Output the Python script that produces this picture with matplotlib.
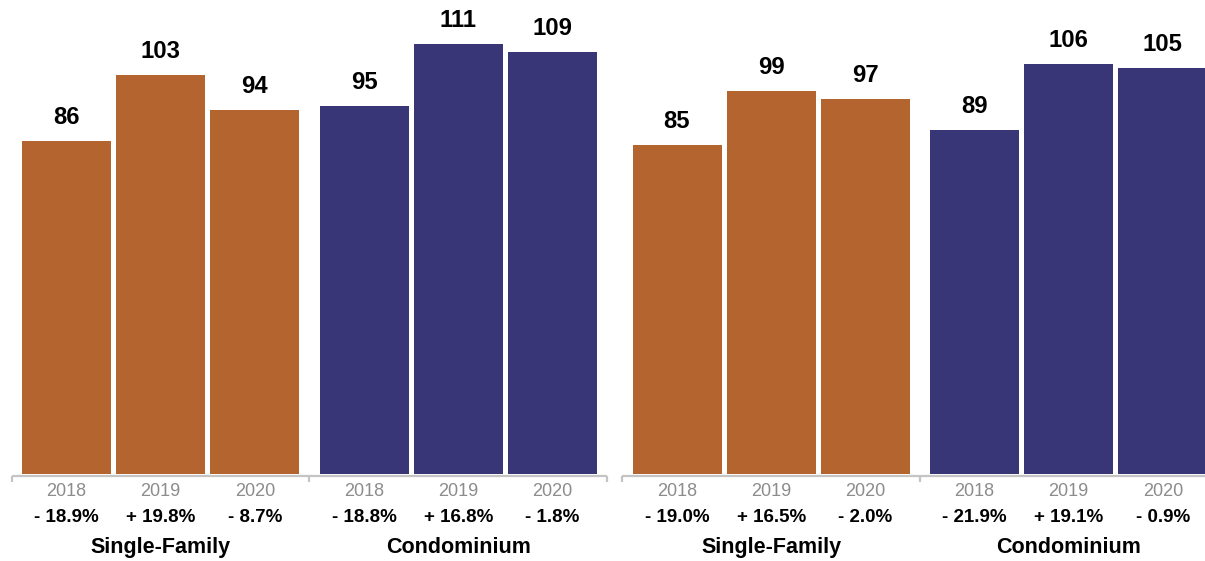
import matplotlib
matplotlib.use("Agg")
import matplotlib.pyplot as plt

# Data (two panels, each with two property types)
YEARS = ["2018", "2019", "2020"]
GROUPS = ["Single-Family", "Condominium"]

LEFT_SF = [86, 103, 94]
LEFT_CONDO = [95, 111, 109]
RIGHT_SF = [85, 99, 97]
RIGHT_CONDO = [89, 106, 105]

LEFT_SF_PCT = [-18.9, 19.8, -8.7]
LEFT_CONDO_PCT = [-18.8, 16.8, -1.8]
RIGHT_SF_PCT = [-19.0, 16.5, -2.0]
RIGHT_CONDO_PCT = [-21.9, 19.1, -0.9]

PANELS = [
    [(LEFT_SF, LEFT_SF_PCT), (LEFT_CONDO, LEFT_CONDO_PCT)],
    [(RIGHT_SF, RIGHT_SF_PCT), (RIGHT_CONDO, RIGHT_CONDO_PCT)],
]

COLORS = ["#B3642F", "#383676"]
AXIS_GRAY = "#c4c4c4"
YEAR_GRAY = "#8c8c8c"

# layout (pixel-like units on x, value units on y)
W, H = 1205, 561
PX_PER_UNIT = 3.87
BASE_PX = 474
PANEL_X0 = [22, 632.5]
GROUP_STEP = 297.5
BAR_STEP = 94.2
BAR_W = 89


def px(d):
    # pixel distance -> value units
    return d / PX_PER_UNIT


def fmt_pct(v):
    sign = "+" if v > 0 else "-"
    return f"{sign} {abs(v):.1f}%"


plt.rcParams["font.family"] = ["Liberation Sans", "DejaVu Sans"]

fig = plt.figure(figsize=(W / 100, H / 100), dpi=100)
ax = fig.add_axes([0, 0, 1, 1])
ax.set_xlim(0, W)
ax.set_ylim(-px(H - BASE_PX), px(BASE_PX))
ax.axis("off")

for p, panel in enumerate(PANELS):
    x0 = PANEL_X0[p]
    # bracket axis line under each panel
    lx0 = x0 - 10.5
    lx1 = x0 - 10.5 + 2 * GROUP_STEP
    ax.plot([lx0, lx1], [-px(2), -px(2)], color=AXIS_GRAY, lw=1.6,
            solid_capstyle="butt", clip_on=False)
    for k in range(3):
        tx = lx0 + k * GROUP_STEP
        ax.plot([tx, tx], [-px(2), -px(8)], color=AXIS_GRAY, lw=1.6,
                solid_capstyle="butt", clip_on=False)

    for g, (vals, pcts) in enumerate(panel):
        lefts = [x0 + g * GROUP_STEP + i * BAR_STEP for i in range(len(vals))]
        ax.bar(lefts, vals, width=BAR_W, align="edge", color=COLORS[g],
               linewidth=0)
        for xl, v, pc, yr in zip(lefts, vals, pcts, YEARS):
            xc = xl + BAR_W / 2
            ax.text(xc, v + px(17), str(v), ha="center", va="baseline",
                    fontsize=17.2, fontweight="bold", color="black")
            ax.text(xc, -px(22), yr, ha="center", va="baseline",
                    fontsize=13, color=YEAR_GRAY)
            ax.text(xc, -px(48), fmt_pct(pc), ha="center", va="baseline",
                    fontsize=13.5, fontweight="bold", color="black")
        gc = (lefts[0] + lefts[-1] + BAR_W) / 2
        ax.text(gc, -px(79), GROUPS[g], ha="center", va="baseline",
                fontsize=15.5, fontweight="bold", color="black")

fig.savefig("out.png", dpi=100)
